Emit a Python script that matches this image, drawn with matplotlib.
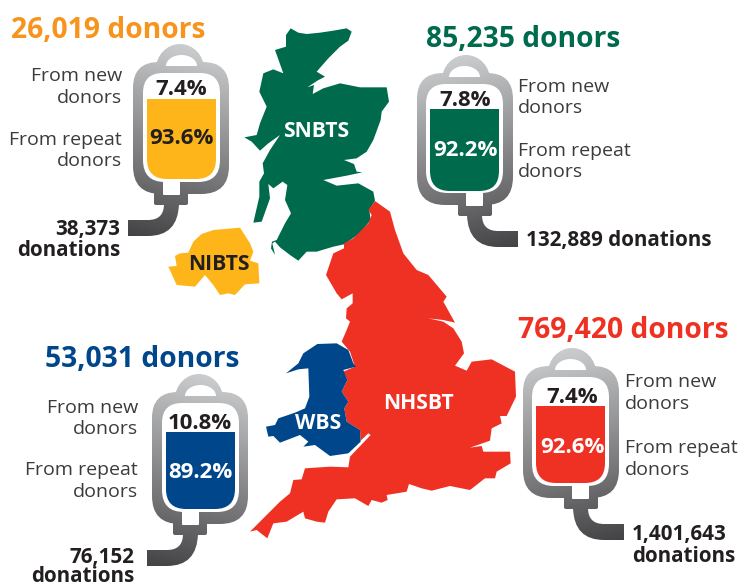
import numpy as np
import matplotlib
matplotlib.use("Agg")
import matplotlib.pyplot as plt
from matplotlib.colors import LinearSegmentedColormap
from matplotlib.patches import PathPatch, Polygon
from matplotlib.path import Path

plt.rcParams["font.family"] = ["Open Sans", "DejaVu Sans"]

# values
centres = ["NIBTS", "SNBTS", "WBS", "NHSBT"]
donors = ["26,019", "85,235", "53,031", "769,420"]
donations = ["38,373", "132,889", "76,152", "1,401,643"]
new_pct = [7.4, 7.8, 10.8, 7.4]
repeat_pct = [93.6, 92.2, 89.2, 92.6]

ORANGE = "#f7941e"
YELLOW = "#fdb51a"
GREEN = "#006a4d"
BLUE = "#00468b"
RED = "#ef3124"
DARK = "#231f20"
GREY_TXT = "#3b3b3d"

# map outlines, traced in zoomed crops (3x): x = off + z / 3
scot_z = [(378,75),(392,55),(415,68),(440,72),(480,68),(520,62),(560,55),(575,65),(565,92),(540,110),
          (505,145),(470,185),(495,200),(472,212),(442,232),(462,225),(458,252),(490,235),(540,220),
          (600,232),(680,232),(687,275),(665,305),(662,330),(640,390),(620,425),(590,445),(552,450),
          (582,462),(590,485),(607,487),(560,497),(490,510),(530,527),(595,520),(640,545),(645,572),
          (628,600),(632,630),(600,670),(552,703),(520,710),(470,725),(440,725),(415,752),(390,735),
          (360,712),(345,695),(337,700),(345,735),(333,715),(336,695),(350,690),(375,640),(393,610),
          (375,570),(382,525),(368,515),(340,535),(325,522),(330,565),(305,635),(280,638),(298,560),
          (298,515),(312,490),(308,460),(330,420),(360,375),(325,400),(300,422),(275,395),(253,382),
          (290,375),(300,340),(320,290),(298,245),(310,190),(340,178),(370,190),(345,120),(378,110)]
ni_z = [(25,770),(50,768),(45,738),(60,730),(85,728),(100,695),(125,672),(160,660),(240,653),(270,700),
        (280,725),(270,752),(295,760),(298,820),(255,823),(225,855),(205,850),(180,855),(160,825),
        (135,795),(105,830),(50,825)]
eng_z = [(405,3),(450,35),(465,90),(490,160),(530,210),(565,225),(620,290),(610,305),(645,368),(610,360),
         (565,355),(610,365),(640,385),(665,425),(672,460),(645,497),(680,512),(695,485),(755,478),
         (825,515),(828,590),(800,648),(780,648),(785,670),(755,685),(750,722),(690,743),(725,738),
         (730,755),(810,755),(812,790),(770,815),(765,835),(735,835),(690,870),(630,858),(575,872),
         (545,865),(507,852),(500,875),(440,885),(443,900),(425,908),(395,900),(385,918),(345,895),
         (290,898),(265,935),(255,968),(230,965),(195,955),(190,935),(140,965),(100,970),(82,1015),
         (50,990),(30,995),(60,965),(120,905),(150,880),(160,840),(185,838),(195,805),(270,800),
         (325,802),(330,770),(392,705),(385,700),(362,722),(360,690),(320,665),(313,625),(325,605),
         (305,575),(322,540),(310,515),(345,500),(330,455),(305,425),(320,390),(330,365),(318,355),
         (320,325),(338,310),(338,280),(305,298),(290,280),(258,225),(280,160),(312,145),(312,130),
         (340,115),(385,70),(395,45),(385,30)]
wales_z = [(232,432),(290,430),(325,450),(340,490),(348,500),(310,510),(322,540),(305,575),(325,605),
           (313,625),(320,665),(360,690),(362,725),(325,760),(270,768),(225,735),(190,740),(205,725),
           (180,705),(120,728),(100,708),(85,710),(78,680),(105,675),(115,655),(165,638),(195,625),
           (208,590),(205,505),(175,508),(138,520),(175,490),(190,460)]

fig = plt.figure(figsize=(7.38, 5.87), dpi=100)
ax = fig.add_axes([0, 0, 1, 1])
ax.axis("off")

bag_cmap = LinearSegmentedColormap.from_list("bag", ["#d2d3d5", "#a2a3a5", "#757577", "#434345"])


def unzoom(pts, x0, y0):
    return [(x0 + x / 3, y0 + y / 3) for x, y in pts]


def rounded(u0, v0, u1, v1, rt, rb):
    verts = [(u0 + rt, v0), (u1 - rt, v0), (u1, v0), (u1, v0 + rt), (u1, v1 - rb), (u1, v1), (u1 - rb, v1),
             (u0 + rb, v1), (u0, v1), (u0, v1 - rb), (u0, v0 + rt), (u0, v0), (u0 + rt, v0), (u0 + rt, v0)]
    codes = [Path.MOVETO, Path.LINETO, Path.CURVE3, Path.CURVE3, Path.LINETO, Path.CURVE3, Path.CURVE3,
             Path.LINETO, Path.CURVE3, Path.CURVE3, Path.LINETO, Path.CURVE3, Path.CURVE3, Path.CLOSEPOLY]
    return verts, codes


def dome(u0, u1, v_base, v_top):
    # half ellipse with a flat base
    w = (u1 - u0) / 2
    h = v_base - v_top
    cx = u0 + w
    k = 0.55
    verts = [(u0, v_base), (u0, v_base - k * h), (cx - k * w, v_top), (cx, v_top),
             (cx + k * w, v_top), (u1, v_base - k * h), (u1, v_base), (u0, v_base)]
    codes = [Path.MOVETO, Path.CURVE4, Path.CURVE4, Path.CURVE4, Path.CURVE4, Path.CURVE4, Path.CURVE4,
             Path.CLOSEPOLY]
    return verts, codes


def draw_bag(left, top, fill_color, fill_top, fill_bottom, mirror=False):
    def place(verts):
        out = []
        for u, v in verts:
            out.append((left + 96 - u if mirror else left + u, top + v))
        return out

    def make(parts):
        return Path(place(parts[0]), parts[1])

    tube = ([(31, 160), (31, 176), (15, 176), (-5, 176), (-5, 192), (15, 192), (45, 192), (46, 160), (31, 160)],
            [Path.MOVETO, Path.CURVE3, Path.CURVE3, Path.LINETO, Path.LINETO, Path.LINETO, Path.CURVE3,
             Path.CURVE3, Path.CLOSEPOLY])
    gray = [rounded(0, 18, 96, 150, 26, 28), dome(23, 71, 25, 0), rounded(21, 145, 55, 161, 0, 2), tube]

    uu, vv = np.meshgrid(np.linspace(-6, 102, 60), np.linspace(0, 194, 120))
    grad = (vv + 0.22 * (96 - uu)) / 215
    x_a, x_b = (left + 102, left - 6) if mirror else (left - 6, left + 102)
    for part in gray:
        im = ax.imshow(grad, cmap=bag_cmap, vmin=0, vmax=1, aspect="auto", interpolation="bilinear",
                       extent=(x_a, x_b, top + 194, top), zorder=2)
        im.set_clip_path(PathPatch(make(part), transform=ax.transData))

    for part in [dome(33, 64, 22, 11), rounded(10, 29, 87, 138, 20, 22), rounded(30, 130, 47, 151, 0, 1)]:
        ax.add_patch(PathPatch(make(part), fc="white", ec="none", zorder=3))
    ax.add_patch(PathPatch(make(rounded(14, fill_top, 83, fill_bottom, 0, 20)), fc=fill_color, ec="none", zorder=4))


# map
ax.add_patch(Polygon(unzoom(scot_z, 160, 10), fc=GREEN, ec="none", zorder=1))
ax.add_patch(Polygon(unzoom(ni_z, 160, 10), fc=YELLOW, ec="none", zorder=1))
ax.add_patch(Polygon(unzoom(eng_z, 240, 200), fc=RED, ec="none", zorder=1))
ax.add_patch(Polygon(unzoom(wales_z, 240, 200), fc=BLUE, ec="none", zorder=1))

# bags: left edge, hanger top, fill top/bottom offsets
draw_bag(133, 44, YELLOW, 55, 135)
draw_bag(417, 55, GREEN, 54, 136, mirror=True)
draw_bag(152, 374, BLUE, 58, 135)
draw_bag(523, 348, RED, 58, 135, mirror=True)


def txt(x, y, s, size, color=DARK, weight="normal", ha="left"):
    ax.text(x, y, s, fontsize=size, color=color, fontweight=weight, ha=ha, va="baseline", zorder=6)


HEAD = 20.3
LAB = 14
BIG = 14.9
PCT = 16
MAP = 15.2

# headlines
txt(11, 38, donors[0] + " donors", HEAD, ORANGE, "bold")
txt(426, 47, donors[1] + " donors", HEAD, GREEN, "bold")
txt(45, 367, donors[2] + " donors", HEAD, BLUE, "bold")
txt(518, 338, donors[3] + " donors", HEAD, RED, "bold")

# from new / repeat labels
for x, ys, ha in [(122, (81, 103, 145, 166), "right"), (518, (92, 113, 156, 177), "left"),
                  (138, (413, 434, 475, 497), "right"), (625, (387, 409, 453, 475), "left")]:
    txt(x, ys[0], "From new", LAB, GREY_TXT, ha=ha)
    txt(x, ys[1], "donors", LAB, GREY_TXT, ha=ha)
    txt(x, ys[2], "From repeat", LAB, GREY_TXT, ha=ha)
    txt(x, ys[3], "donors", LAB, GREY_TXT, ha=ha)

# donations
txt(120, 235, donations[0], BIG, weight="bold", ha="right")
txt(120, 256, "donations", BIG, weight="bold", ha="right")
txt(526, 246, donations[1] + " donations", BIG, weight="bold")
txt(134, 563, donations[2], BIG, weight="bold", ha="right")
txt(134, 582, "donations", BIG, weight="bold", ha="right")
txt(632, 540, donations[3], BIG, weight="bold")
txt(632, 562, "donations", BIG, weight="bold")

# percentages in the bags
pct_pos = [(181, 95, 144, DARK), (465, 106, 156, "white"), (200, 429, 478, "white"), (572, 403, 453, "white")]
for (cx, y_new, y_rep, col), n, r in zip(pct_pos, new_pct, repeat_pct):
    txt(cx, y_new, "{:.1f}%".format(n), PCT, weight="bold", ha="center")
    txt(cx, y_rep, "{:.1f}%".format(r), PCT, col, "bold", ha="center")

# map labels
map_pos = [(219, 270, DARK), (316, 137, "white"), (318, 429, "white"), (418, 409, "white")]
for (x, y, col), name in zip(map_pos, centres):
    txt(x, y, name, MAP, col, "bold", ha="center")

ax.set_xlim(0, 738)
ax.set_ylim(587, 0)
fig.savefig("out.png", dpi=100, facecolor="white")
